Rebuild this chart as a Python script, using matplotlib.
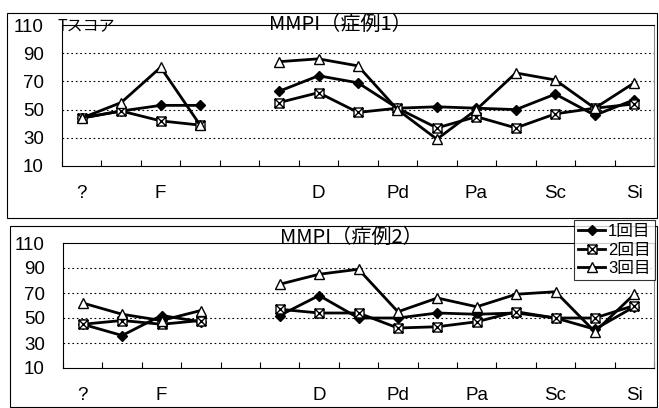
import numpy as np
import matplotlib
matplotlib.use("Agg")
import matplotlib.pyplot as plt
from matplotlib.path import Path
from matplotlib.patches import Rectangle

plt.rcParams['font.family'] = ['Liberation Sans', 'Noto Sans CJK JP', 'DejaVu Sans']

nan = np.nan
scales = ['?', 'L', 'F', 'K', '', 'Hs', 'D', 'Hy', 'Pd', 'Mf', 'Pa', 'Pt', 'Sc', 'Ma', 'Si']
shown_labels = ['?', '', 'F', '', '', '', 'D', '', 'Pd', '', 'Pa', '', 'Sc', '', 'Si']
series_names = ['1回目', '2回目', '3回目']

case1_s1 = [44, 49, 53, 53, nan, 63, 74, 69, 51, 52, 51, 50, 61, 46, 57]
case1_s2 = [44, 49, 42, 39, nan, 55, 62, 48, 51, 37, 45, 37, 47, 51, 54]
case1_s3 = [44, 55, 80, 39, nan, 84, 86, 81, 50, 29, 50, 76, 71, 51, 69]

case2_s1 = [45, 36, 52, 47, nan, 52, 68, 50, 50, 54, 53, 54, 50, 41, 59]
case2_s2 = [45, 48, 45, 48, nan, 57, 54, 54, 42, 43, 47, 55, 50, 50, 60]
case2_s3 = [62, 53, 48, 56, nan, 77, 85, 89, 55, 66, 59, 69, 71, 39, 69]

titles = ['MMPI（症例1）', 'MMPI（症例2）']
yticks = [10, 30, 50, 70, 90, 110]

W, H = 659, 408
fig = plt.figure(figsize=(W / 100, H / 100), dpi=100)

def fx(px):
    return px / W

def fy(py):
    return 1 - py / H

# square with X marker
sqx = Path([(-1, -1), (1, -1), (1, 1), (-1, 1), (-1, -1), (-1, -1), (1, 1), (-1, 1), (1, -1)],
           [Path.MOVETO, Path.LINETO, Path.LINETO, Path.LINETO, Path.CLOSEPOLY,
            Path.MOVETO, Path.LINETO, Path.MOVETO, Path.LINETO])

styles = [
    dict(marker='D', ms=5, mfc='black', mec='black', color='black', lw=2.0),
    dict(marker=sqx, ms=6.5, mfc='white', mec='black', mew=1.0, color='black', lw=2.0),
    dict(marker='^', ms=7, mfc='white', mec='black', mew=1.0, color='black', lw=2.0),
]

# outer chart borders
fig.add_artist(Rectangle((fx(7), fy(218)), fx(657) - fx(7), fy(13) - fy(218),
                         transform=fig.transFigure, fill=False, lw=0.8, ec='black'))
fig.add_artist(Rectangle((fx(10), fy(407)), fx(657) - fx(10), fy(226) - fy(407),
                         transform=fig.transFigure, fill=False, lw=0.8, ec='black'))

axes_px = [(62, 25, 654, 166), (63, 243, 654, 368)]
data = [[case1_s1, case1_s2, case1_s3], [case2_s1, case2_s2, case2_s3]]
x = np.arange(len(scales))

for k, (l, t, r, b) in enumerate(axes_px):
    ax = fig.add_axes([fx(l), fy(b), fx(r) - fx(l), fy(t) - fy(b)])
    for vals, st, name in zip(data[k], styles, series_names):
        ax.plot(x, vals, label=name, **st)
    ax.set_xlim(-0.5, len(scales) - 0.5)
    ax.set_ylim(10, 110)
    ax.set_yticks(yticks)
    ax.set_yticklabels([str(v) for v in yticks], fontsize=13.5)
    ax.set_xticks(x)
    ax.set_xticklabels(shown_labels, fontsize=13.5)
    ax.set_xticks(np.arange(len(scales) + 1) - 0.5, minor=True)
    ax.tick_params(axis='y', length=0, pad=13)
    ax.tick_params(axis='x', which='major', length=0, pad=14)
    ax.tick_params(axis='x', which='minor', length=4, direction='in', width=0.8)
    for yv in [30, 50, 70, 90]:
        ax.axhline(yv, color='black', lw=0.8, ls=(0, (1.5, 2.5)), zorder=0)
    for sp in ax.spines.values():
        sp.set_linewidth(0.8)
    ax.spines['right'].set_color('#888888')
    if k == 1:
        handles, labels = ax.get_legend_handles_labels()

fig.text(fx(58), fy(26), 'Tスコア', fontsize=11.5, ha='left', va='center',
         family=['Noto Sans CJK JP', 'DejaVu Sans'])
fig.text(fx(340), fy(24), titles[0], fontsize=14.5, ha='center', va='center',
         family=['Noto Sans CJK JP', 'DejaVu Sans'])
fig.text(fx(351), fy(237), titles[1], fontsize=14.5, ha='center', va='center',
         family=['Noto Sans CJK JP', 'DejaVu Sans'])

leg = fig.legend(handles, labels, loc='upper right', bbox_to_anchor=(fx(655), fy(220)),
                 frameon=True, fancybox=False, handlelength=1.6,
                 handletextpad=0.2, borderpad=0.25, labelspacing=0.2, borderaxespad=0,
                 prop={'family': ['Liberation Sans', 'Noto Sans CJK JP'], 'size': 12})
leg.get_frame().set_edgecolor('black')
leg.get_frame().set_linewidth(0.8)

fig.savefig('out.png', dpi=100)
